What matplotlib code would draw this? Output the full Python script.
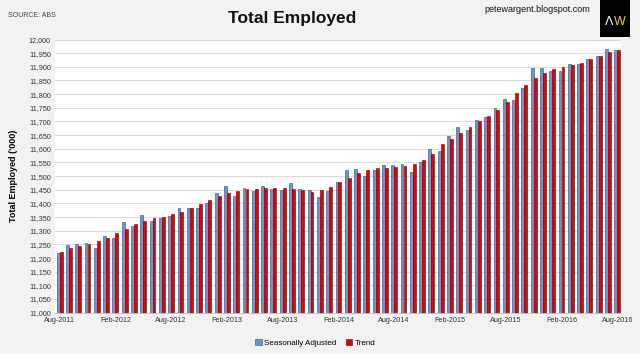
import matplotlib
matplotlib.use("Agg")
import matplotlib.pyplot as plt
import numpy as np

# monthly, Aug-2011 .. Aug-2016 ('000 persons)
seasonally_adjusted = [
    11217, 11248, 11251, 11256, 11235, 11280, 11272, 11333, 11316, 11357,
    11335, 11345, 11354, 11385, 11382, 11382, 11400, 11437, 11463, 11427,
    11455, 11445, 11463, 11451, 11449, 11473, 11451, 11449, 11423, 11444,
    11477, 11522, 11526, 11500, 11522, 11540, 11541, 11546, 11515, 11551,
    11599, 11591, 11646, 11678, 11668, 11704, 11715, 11748, 11782, 11778,
    11822, 11895, 11894, 11885, 11885, 11910, 11910, 11928, 11940, 11966,
    11961,
]
trend = [
    11223, 11235, 11244, 11251, 11261, 11273, 11290, 11307, 11323, 11337,
    11345, 11351, 11360, 11367, 11382, 11398, 11412, 11427, 11437, 11445,
    11451, 11451, 11455, 11456, 11456, 11452, 11449, 11443, 11449, 11460,
    11477, 11494, 11510, 11522, 11528, 11530, 11532, 11537, 11544, 11559,
    11580, 11618, 11635, 11657, 11679, 11702, 11721, 11742, 11773, 11805,
    11833, 11859, 11878, 11891, 11899, 11907, 11915, 11927, 11941, 11955,
    11962,
]
tick_labels = ["Aug-2011", "Feb-2012", "Aug-2012", "Feb-2013", "Aug-2013",
               "Feb-2014", "Aug-2014", "Feb-2015", "Aug-2015", "Feb-2016",
               "Aug-2016"]

plt.rcParams['font.family'] = ['Liberation Sans', 'DejaVu Sans']

bg = "#f2f2f2"
fig = plt.figure(figsize=(6.4, 3.54), dpi=100, facecolor=bg)
ax = fig.add_axes([0.0859, 0.1167, 0.8844, 0.7717])
ax.set_facecolor("white")

x = np.arange(len(seasonally_adjusted))
w = 0.31
ax.bar(x - 0.16, seasonally_adjusted, w, color="#6499d0", edgecolor="#2b4e78",
       linewidth=0.4, label="Seasonally Adjusted", zorder=3)
ax.bar(x + 0.16, trend, w, color="#e60000", edgecolor="#6e0000",
       linewidth=0.4, label="Trend", zorder=3)

ax.set_ylim(11000, 12000)
ax.set_xlim(-0.5, 60.4)
ax.set_yticks(np.arange(11000, 12001, 50))
ax.set_yticklabels([f"{v:,}" for v in range(11000, 12001, 50)])
ax.set_xticks(np.arange(0, len(x), 6))
ax.set_xticklabels(tick_labels)
ax.tick_params(axis="both", length=0, labelsize=5.2, colors="#333333", pad=3)
ax.yaxis.grid(True, color="#dcdcdc", linewidth=0.8, zorder=0)

for s in ["top", "right", "left"]:
    ax.spines[s].set_visible(False)
ax.spines["bottom"].set_color("#bbbbbb")
ax.spines["bottom"].set_linewidth(0.6)

ax.set_ylabel("Total Employed ('000)", fontsize=6.5, fontweight="bold", labelpad=8)

fig.text(0.457, 0.948, "Total Employed", ha="center", va="center",
         fontsize=12.5, fontweight="bold", color="#111111")
fig.text(0.013, 0.955, "SOURCE: ABS", ha="left", va="center", fontsize=5, color="#444444")
fig.text(0.922, 0.972, "petewargent.blogspot.com", ha="right", va="center",
         fontsize=6.5, color="#111111")

logo = fig.add_axes([0.937, 0.895, 0.047, 0.105])
logo.set_facecolor("black")
logo.set_xticks([])
logo.set_yticks([])
for s in logo.spines.values():
    s.set_visible(False)
logo.text(0.3, 0.42, "\u039b", color="white", fontsize=9, ha="center", va="center",
          transform=logo.transAxes)
logo.text(0.68, 0.42, "W", color="#e8d400", fontsize=9, ha="center", va="center",
          transform=logo.transAxes)

ax.legend(loc="upper center", bbox_to_anchor=(0.46, -0.07), ncol=2, frameon=False,
          fontsize=5.8, handlelength=0.8, handleheight=0.8, handletextpad=0.3,
          columnspacing=1.2)

fig.savefig("out.png", dpi=100, facecolor=bg)
